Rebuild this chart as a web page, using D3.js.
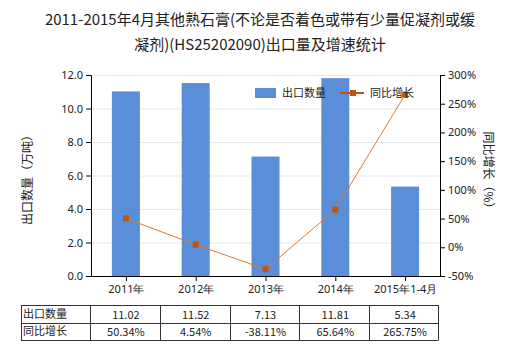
<!DOCTYPE html>
<html><head><meta charset="utf-8">
<script src="https://cdn.jsdelivr.net/npm/d3@7"></script>
<style>body{margin:0;background:#fff}svg{display:block}text{font-family:"Noto Sans CJK SC","Noto Sans",sans-serif}</style>
</head><body><svg id="c" width="520" height="350"></svg>
<script>
const categories = ["2011年","2012年","2013年","2014年","2015年1-4月"];
const exportQty = [11.02, 11.52, 7.13, 11.81, 5.34];
const growth = [50.34, 4.54, -38.11, 65.64, 265.75];
const qtyLabels = ["11.02","11.52","7.13","11.81","5.34"];
const growthLabels = ["50.34%","4.54%","-38.11%","65.64%","265.75%"];
const leftTicks = [0,2,4,6,8,10,12];
const rightTicks = [-50,0,50,100,150,200,250,300];

const svg = d3.select("#c");
const L=91, R=440, T=75, B=276;
const xc = d3.scalePoint().domain(categories).range([L,R]).padding(0.5);
const y = d3.scaleLinear().domain([0,12]).range([B,T]);
const y2 = d3.scaleLinear().domain([-50,300]).range([B,T]);

// title
const title = svg.append("g").attr("fill","#222").attr("font-size",15).attr("text-anchor","middle");
title.append("text").attr("x",260).attr("y",25).text("2011-2015年4月其他熟石膏(不论是否着色或带有少量促凝剂或缓");
title.append("text").attr("x",260).attr("y",50).text("凝剂)(HS25202090)出口量及增速统计");

// grid
svg.append("g").selectAll("line").data(leftTicks.slice(1)).join("line")
  .attr("x1",L).attr("x2",R).attr("y1",d=>y(d)+0.5).attr("y2",d=>y(d)+0.5)
  .attr("stroke","#e6eaee").attr("stroke-width",1);

// bars
svg.append("g").selectAll("rect").data(exportQty).join("rect")
  .attr("x",(d,i)=>xc(categories[i])-14).attr("width",28)
  .attr("y",d=>y(d)).attr("height",d=>B-y(d)).attr("fill","#5a8ed8");

// line
const line = d3.line().x((d,i)=>xc(categories[i])).y(d=>y2(d));
svg.append("path").datum(growth).attr("d",line).attr("fill","none").attr("stroke","#e0782a").attr("stroke-width",1);
svg.append("g").selectAll("rect").data(growth).join("rect")
  .attr("x",(d,i)=>xc(categories[i])-3).attr("y",d=>y2(d)-3).attr("width",6).attr("height",6)
  .attr("fill","#c4520e");

// axes
const ax = g=>{g.selectAll("text").attr("font-size",11).attr("fill","#222").style("font-family","'Noto Sans','DejaVu Sans',sans-serif");g.selectAll("path,line").attr("stroke","#000");};
svg.append("g").attr("transform",`translate(${L},0)`)
  .call(d3.axisLeft(y).tickValues(leftTicks).tickFormat(d3.format(".1f")).tickSizeOuter(0).tickSize(5)).call(ax);
svg.append("g").attr("transform",`translate(${R},0)`)
  .call(d3.axisRight(y2).tickValues(rightTicks).tickFormat(d=>d+"%").tickSizeOuter(0).tickSize(5)).call(ax);
svg.append("g").attr("transform",`translate(0,${B})`)
  .call(d3.axisBottom(xc).tickSize(5).tickSizeOuter(0)).call(ax)
  .selectAll("text").attr("dy","0.85em");

// axis titles
svg.append("text").attr("transform","translate(32,177) rotate(-90)").attr("text-anchor","middle")
  .attr("font-size",12).attr("fill","#222").text("出口数量（万吨）");
svg.append("text").attr("transform","translate(484,173) rotate(90)").attr("text-anchor","middle")
  .attr("font-size",12).attr("fill","#222").text("同比增长（%）");

// legend
const lg = svg.append("g").attr("font-size",11).attr("fill","#222");
lg.append("rect").attr("x",255).attr("y",88).attr("width",21).attr("height",10).attr("fill","#5a8ed8");
lg.append("text").attr("x",282).attr("y",97).text("出口数量");
lg.append("line").attr("x1",340).attr("x2",364).attr("y1",93).attr("y2",93).attr("stroke","#c4520e").attr("stroke-width",2);
lg.append("rect").attr("x",350).attr("y",90).attr("width",6).attr("height",6).attr("fill","#c4520e");
lg.append("text").attr("x",370).attr("y",97).text("同比增长");

// table
const tb = svg.append("g");
const cols = [21,90,160,230,299,369,438];
const rows = [305,323,340];
rows.forEach(r=>tb.append("line").attr("x1",21).attr("x2",438).attr("y1",r+0.5).attr("y2",r+0.5).attr("stroke","#333"));
cols.forEach(c=>tb.append("line").attr("x1",c+0.5).attr("x2",c+0.5).attr("y1",305).attr("y2",340.5).attr("stroke","#333"));
const tt = tb.append("g").attr("font-size",11).attr("fill","#222");
tt.append("text").attr("x",23).attr("y",318).text("出口数量");
tt.append("text").attr("x",23).attr("y",335).text("同比增长");
tt.selectAll(".q").data(qtyLabels).join("text").attr("text-anchor","middle")
  .attr("x",(d,i)=>xc(categories[i])).attr("y",319).text(d=>d);
tt.selectAll(".g").data(growthLabels).join("text").attr("text-anchor","middle")
  .attr("x",(d,i)=>xc(categories[i])).attr("y",336).text(d=>d);
</script></body></html>
